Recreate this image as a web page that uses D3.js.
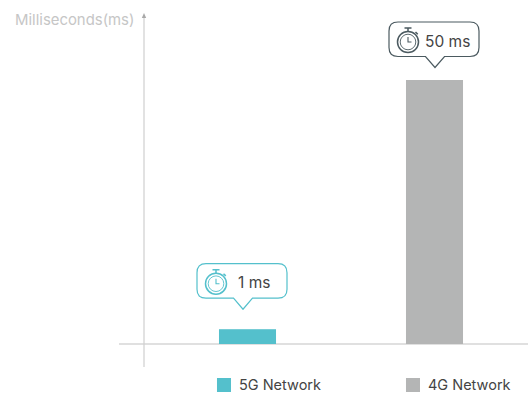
<!doctype html>
<html lang="en">
<head>
<meta charset="utf-8">
<title>5G vs 4G latency</title>
<script src="https://d3js.org/d3.v7.min.js"></script>
<style>
  html, body { margin: 0; padding: 0; background: #fff; }
  svg { display: block; font-family: Inter, Roboto, sans-serif; }
</style>
</head>
<body>
<svg width="528" height="393"></svg>
<script>
var networks = ["5G Network", "4G Network"];
var callouts = ["1 ms", "50 ms"];
// the picture is not to scale: 5G bar is drawn taller than 1 on this axis
var drawnValues = [2.8, 50];
var colors = ["#54c0cc", "#b4b5b5"];
var outlines = ["#54c0cc", "#4b5a60"];
var yLabel = "Milliseconds(ms)";

var svg = d3.select("svg");

var x = d3.scaleBand().domain(networks).range([154, 528]).paddingInner(0.695).paddingOuter(0.3475);
var y = d3.scaleLinear().domain([0, 50]).range([344, 80]);

// axes
svg.append("line").attr("x1", 119).attr("x2", 528).attr("y1", y(0)).attr("y2", y(0))
  .attr("stroke", "#d6d6d6").attr("stroke-width", 1.6);
svg.append("line").attr("x1", 144).attr("x2", 144).attr("y1", 15).attr("y2", 367)
  .attr("stroke", "#cfcfcf").attr("stroke-width", 1.2);
svg.append("path").attr("d", "M144,13 L141.8,18 L146.2,18 Z").attr("fill", "#a9a9a9");
svg.append("text").attr("x", 15).attr("y", 25).attr("font-size", 14.9).attr("fill", "#c6c6c6").text(yLabel);

// bars
svg.selectAll("rect.bar").data(networks).enter().append("rect")
  .attr("class", "bar")
  .attr("x", d => x(d))
  .attr("width", x.bandwidth())
  .attr("y", (d, i) => y(drawnValues[i]))
  .attr("height", (d, i) => y(0) - y(drawnValues[i]))
  .attr("fill", (d, i) => colors[i]);

// callouts
function bubble(w, h) {
  var r = 9, tx = 46, tw = 9.5, th = 11;
  return "M" + r + ",0 H" + (w - r) + " Q" + w + ",0 " + w + "," + r +
    " V" + (h - r) + " Q" + w + "," + h + " " + (w - r) + "," + h +
    " H" + (tx + tw) + " L" + tx + "," + (h + th) + " L" + (tx - tw) + "," + h +
    " H" + r + " Q0," + h + " 0," + (h - r) + " V" + r + " Q0,0 " + r + ",0 Z";
}

var tips = svg.selectAll("g.tip").data(networks).enter().append("g")
  .attr("class", "tip")
  .attr("transform", (d, i) => "translate(" + (x(d) + x.bandwidth() / 2 - 46 + (i ? 0.5 : -4.5)) + "," + (y(drawnValues[i]) - 65.5 + (i ? 7.5 : 0)) + ")");

tips.append("path").attr("d", bubble(90, 34.5))
  .attr("fill", "#fff")
  .attr("stroke", (d, i) => outlines[i])
  .attr("stroke-width", 1.2);

tips.append("text").attr("x", (d, i) => i ? 36 : 41).attr("y", 24.5)
  .attr("font-size", 15.5).attr("fill", "#444")
  .text((d, i) => callouts[i]);

// stopwatch icon
var icon = tips.append("g")
  .attr("transform", "translate(19,20)")
  .attr("fill", "none")
  .attr("stroke", (d, i) => outlines[i])
  .attr("stroke-width", 1);
icon.append("circle").attr("r", 10.5).attr("stroke-width", 1.5);
icon.append("circle").attr("r", 7.8).attr("stroke-width", 0.9);
icon.append("path").attr("d", "M0,-5 V0 H3.5").attr("stroke-width", 1.1);
icon.append("path").attr("d", "M-3.5,-14 H3.5 M0,-14 V-10.5 M7.5,-10 L9.8,-7.8").attr("stroke-width", 1.5);

// legend
var legend = svg.selectAll("g.legend").data(networks).enter().append("g")
  .attr("class", "legend")
  .attr("transform", (d, i) => "translate(" + (x(d) - (i ? 0 : 2)) + ",378)");
legend.append("rect").attr("width", 14).attr("height", 14).attr("fill", (d, i) => colors[i]);
legend.append("text").attr("x", 22).attr("y", 12).attr("font-size", 14.5).attr("fill", "#444").text(d => d);
</script>
</body>
</html>
